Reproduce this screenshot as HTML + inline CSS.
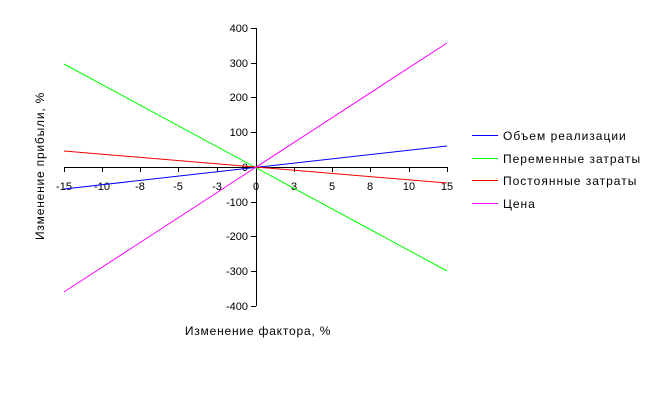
<!DOCTYPE html>
<html><head><meta charset="utf-8"><style>body{margin:0;background:#fff}</style></head><body>
<svg width="652" height="404" xmlns="http://www.w3.org/2000/svg" font-family="Liberation Sans, DejaVu Sans, sans-serif" font-size="11">
<rect width="652" height="404" fill="#fff"/>
<g stroke="#000" stroke-width="1">
<line x1="256.5" y1="28" x2="256.5" y2="306"/>
<line x1="64" y1="167.5" x2="447" y2="167.5"/>
<line x1="251" y1="28.5" x2="256" y2="28.5"/><line x1="251" y1="63.5" x2="256" y2="63.5"/><line x1="251" y1="97.5" x2="256" y2="97.5"/><line x1="251" y1="132.5" x2="256" y2="132.5"/><line x1="251" y1="167.5" x2="256" y2="167.5"/><line x1="251" y1="202.5" x2="256" y2="202.5"/><line x1="251" y1="236.5" x2="256" y2="236.5"/><line x1="251" y1="271.5" x2="256" y2="271.5"/><line x1="251" y1="306.5" x2="256" y2="306.5"/>
<line x1="64.5" y1="167" x2="64.5" y2="172"/><line x1="102.5" y1="167" x2="102.5" y2="172"/><line x1="140.5" y1="167" x2="140.5" y2="172"/><line x1="178.5" y1="167" x2="178.5" y2="172"/><line x1="217.5" y1="167" x2="217.5" y2="172"/><line x1="256.5" y1="167" x2="256.5" y2="172"/><line x1="294.5" y1="167" x2="294.5" y2="172"/><line x1="332.5" y1="167" x2="332.5" y2="172"/><line x1="370.5" y1="167" x2="370.5" y2="172"/><line x1="409.5" y1="167" x2="409.5" y2="172"/><line x1="447.5" y1="167" x2="447.5" y2="172"/>
</g>
<g text-anchor="end">
<text x="248" y="32">400</text><text x="248" y="67">300</text><text x="248" y="101">200</text><text x="248" y="136">100</text><text x="248" y="171">0</text><text x="248" y="206">-100</text><text x="248" y="240">-200</text><text x="248" y="275">-300</text><text x="248" y="310">-400</text>
</g>
<g text-anchor="middle">
<text x="64" y="190">-15</text><text x="102" y="190">-10</text><text x="140" y="190">-8</text><text x="178" y="190">-5</text><text x="217" y="190">-3</text><text x="256" y="190">0</text><text x="294" y="190">3</text><text x="332" y="190">5</text><text x="370" y="190">8</text><text x="409" y="190">10</text><text x="447" y="190">15</text>
<text x="258" y="335" font-size="12" letter-spacing="0.8">Изменение фактора, %</text>
<text transform="translate(44,166) rotate(-90)" font-size="12" letter-spacing="0.8">Изменение прибыли, %</text>
</g>
<g stroke-width="1" fill="none">
<line x1="64" y1="189" x2="447" y2="146" stroke="#0000ff"/>
<line x1="64" y1="64" x2="447" y2="271" stroke="#00ff00"/>
<line x1="64" y1="151" x2="447" y2="183" stroke="#ff0000"/>
<line x1="64" y1="292" x2="447" y2="43" stroke="#ff00ff"/>
<line x1="472" y1="135.5" x2="498" y2="135.5" stroke="#0000ff"/>
<line x1="472" y1="158.5" x2="498" y2="158.5" stroke="#00ff00"/>
<line x1="472" y1="180.5" x2="498" y2="180.5" stroke="#ff0000"/>
<line x1="472" y1="203.5" x2="498" y2="203.5" stroke="#ff00ff"/>
</g>
<g font-size="12" letter-spacing="1">
<text x="503" y="140">Объем реализации</text>
<text x="503" y="163">Переменные затраты</text>
<text x="503" y="185">Постоянные затраты</text>
<text x="503" y="208">Цена</text>
</g>
</svg>
</body></html>
